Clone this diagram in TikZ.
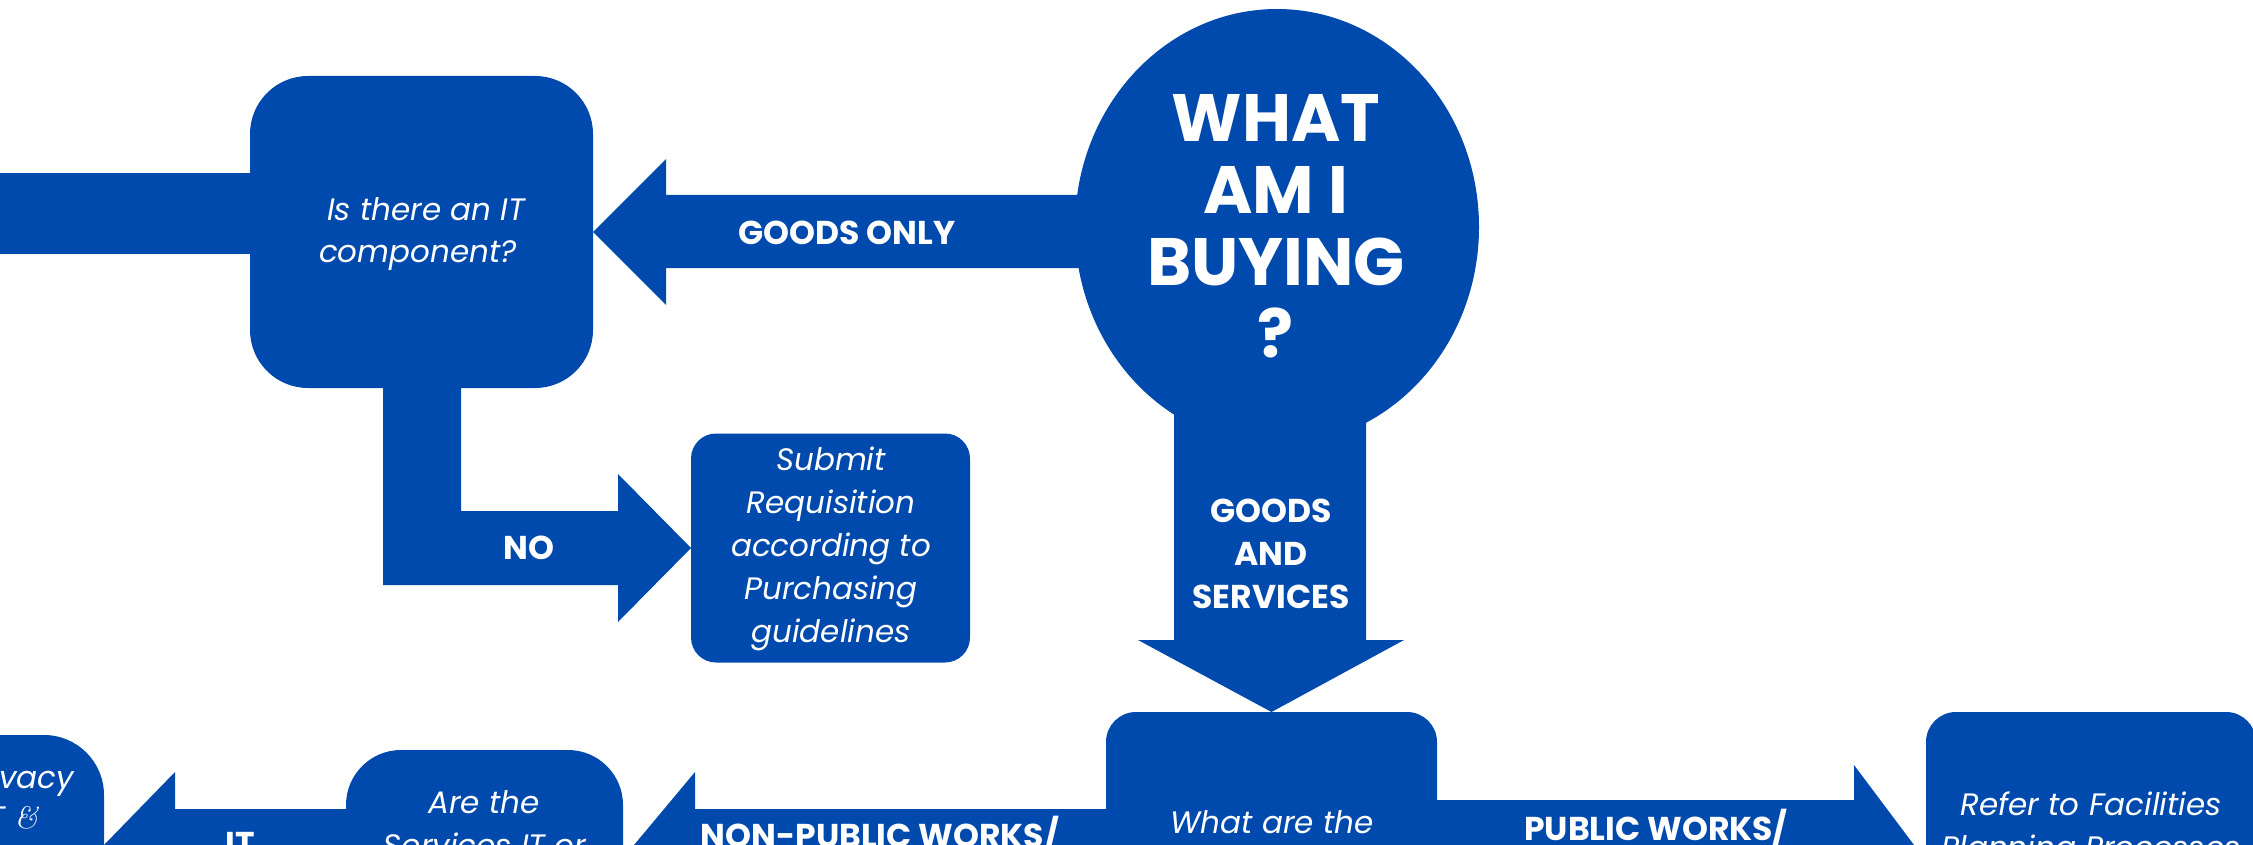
\documentclass[tikz,border=0pt]{standalone}
\usepackage{fontspec}
\setmainfont{Poppins}
\newfontfamily\lmfam{Latin Modern Roman}
\usetikzlibrary{shapes.geometric}
\definecolor{blu}{HTML}{004AAD}
\begin{document}
\begin{tikzpicture}[x=1pt,y=-1pt,
  box/.style={fill=blu, inner sep=0pt, outer sep=0pt},
  lab/.style={text=white, font=\bfseries\fontsize{33}{43}\selectfont, inner sep=0pt, anchor=base},
  itx/.style={text=white, font=\itshape\fontsize{31}{43}\selectfont, inner sep=0pt, anchor=base},
  big/.style={text=white, font=\bfseries\fontsize{67}{72}\selectfont, inner sep=0pt, anchor=base}]
\useasboundingbox (0,0) rectangle (2253,845);
\clip (0,0) rectangle (2253,845);
% boxes
\node[box, rounded corners=58pt, minimum width=343pt, minimum height=312pt] (itq) at (421.5,232) {};
\node[box, rounded corners=25pt, minimum width=279pt, minimum height=229pt] (sub) at (830.5,548) {};
\node[box, ellipse, minimum width=404pt, minimum height=436pt] (what) at (1277,227) {};
\node[box, rounded corners=30pt, minimum width=331pt, minimum height=300pt, anchor=north west] (kind) at (1106,712) {};
\node[box, rounded corners=30pt, minimum width=330pt, minimum height=300pt, anchor=north west] (refer) at (1926,712) {};
\node[box, rounded corners=55pt, minimum width=277pt, minimum height=300pt, anchor=north west] (svc) at (346,750) {};
\node[box, rounded corners=60pt, minimum width=300pt, minimum height=300pt, anchor=north east] (priv) at (104,735) {};
% connectors (block arrows)
\fill[blu] (itq.west |- 0,173) rectangle (-5,254);
\fill[blu] (itq.east) -- (666,159) -- (666,195) -- (1120,195) -- (1120,268) -- (666,268) -- (666,305) -- cycle;
\fill[blu] (1174,380) -- (1366,380) -- (1366,640) -- (1404,640) -- (kind.north) -- (1138,640) -- (1174,640) -- cycle;
\fill[blu] (383,385) -- (461,385) -- (461,511) -- (618,511) -- (618,474) -- (sub.west) -- (618,622) -- (618,585) -- (383,585) -- cycle;
\fill[blu] (1120,809) -- (695,809) -- (695,772) -- (634,845) -- (695,918) -- (695,881) -- (1120,881) -- cycle;
\fill[blu] (360,809) -- (175,809) -- (175,772) -- (104,845) -- (175,918) -- (175,881) -- (360,881) -- cycle;
\fill[blu] (1420,800) -- (1854,800) -- (1854,765) -- (1926,861) -- (1854,957) -- (1854,922) -- (1420,922) -- cycle;
% texts
\node[big] (w1) at (1276,142) {WHAT};
\node[big] (w2) at (1276,213) {AM I};
\node[big] (w3) at (1276,285) {BUYING};
\node[big] (w4) at (1276,357) {?};
\node[lab] (tgo) at (847,244) {GOODS ONLY};
\node[lab] (tno) at (529,559) {NO};
\node[lab] (tg1) at (1271,522) {GOODS};
\node[lab] (tg2) at (1271,565) {AND};
\node[lab] (tg3) at (1271,608) {SERVICES};
\node[lab] (tit) at (240,855) {IT};
\node[lab] (tnp) at (880,847) {NON-PUBLIC WORKS/};
\node[lab] (tpw) at (1656,840) {PUBLIC WORKS/};
\node[itx] (q1) at (426,221) {Is there an IT};
\node[itx] (q2) at (418,262) {component?};
\node[itx] (s1) at (831,470) {Submit};
\node[itx] (s2) at (831,513) {Requisition};
\node[itx] (s3) at (831,556) {according to};
\node[itx] (s4) at (831,599) {Purchasing};
\node[itx] (s5) at (831,642) {guidelines};
\node[itx] (k1) at (1272,833) {What are the};
\node[itx] (r1) at (2091,815) {Refer to Facilities};
\node[itx] (r2) at (2091,858) {Planning Processes};
\node[itx] (a1) at (484,813) {Are the};
\node[itx] (a2) at (485,856) {Services IT or};
\node[itx, anchor=base east] (p1) at (74,788) {ivacy};
\node[itx, anchor=base east] (p2) at (38,828) {T {\lmfam\itshape\&}};
\end{tikzpicture}
\end{document}
